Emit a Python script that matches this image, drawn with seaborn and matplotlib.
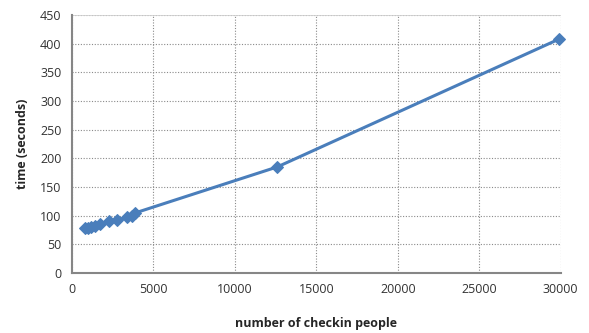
import numpy as np
import pandas as pd
import seaborn as sns
import matplotlib.pyplot as plt

# Valeurs
checkin_people = [800, 1000, 1200, 1400, 1700, 2300, 2800, 3400, 3700, 3900, 12600, 29900]
time_seconds = [78, 79, 80, 82, 85, 90, 93, 97, 100, 105, 185, 408]
x_ticks = [0, 5000, 10000, 15000, 20000, 25000, 30000]
y_ticks = [0, 50, 100, 150, 200, 250, 300, 350, 400, 450]

df = pd.DataFrame({"people": checkin_people, "time": time_seconds})

sns.set_style("white")
plt.rcParams['font.family'] = ['Open Sans', 'DejaVu Sans']

fig = plt.figure(figsize=(5.89, 3.33), dpi=100)
ax = fig.add_axes([0.122, 0.180, 0.830, 0.775])

blue = "#4a7ebb"
sns.lineplot(data=df, x="people", y="time", ax=ax, color=blue, linewidth=2.2,
             marker="D", markersize=6, markeredgecolor=blue, zorder=3,
             clip_on=False)

ax.set_xlim(0, 30000)
ax.set_ylim(0, 450)
ax.set_xticks(x_ticks)
ax.set_yticks(y_ticks)
ax.tick_params(axis="both", labelsize=9, colors="#333333", length=4,
               direction="out", width=1)
ax.tick_params(axis="both", color="#868686")
ax.grid(True, linestyle=(0, (1, 1.5)), color="#8a8a8a", linewidth=0.8)
ax.axhline(450, color="#d0d0d0", linewidth=1.2, zorder=1)

for s in ["top", "right"]:
    ax.spines[s].set_visible(False)
for s in ["left", "bottom"]:
    ax.spines[s].set_color("#868686")
    ax.spines[s].set_linewidth(1.5)

ax.set_xlabel("number of checkin people", fontsize=9, fontweight="bold", labelpad=15)
ax.set_ylabel("time (seconds)", fontsize=9, fontweight="bold", labelpad=8)

plt.savefig("out.png", dpi=100)
